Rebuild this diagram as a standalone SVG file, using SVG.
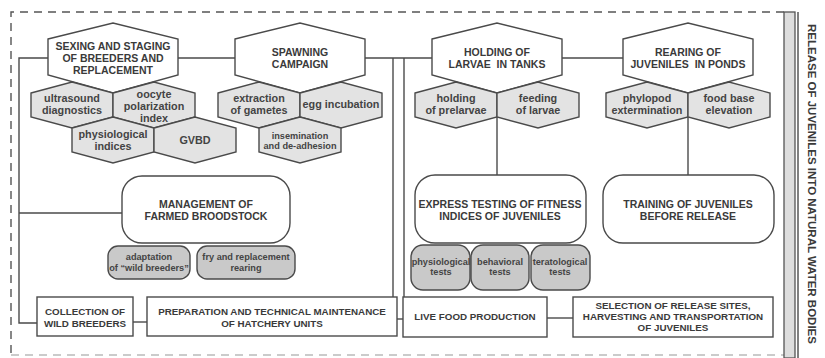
<svg xmlns="http://www.w3.org/2000/svg" width="825" height="358" viewBox="0 0 825 358">
<style>
.bg{fill:#ffffff}
.border{fill:none;stroke:#555;stroke-width:1.4;stroke-dasharray:8 6}
.line{fill:none;stroke:#4a4a4a;stroke-width:1.4}
.bighex{fill:#ffffff;stroke:#4a4a4a;stroke-width:1.4}
.smhex{fill:#e3e3e3;stroke:#4a4a4a;stroke-width:1.4}
.rbox{fill:#ffffff;stroke:#4a4a4a;stroke-width:1.4}
.sbox{fill:#c9c9c9;stroke:#4a4a4a;stroke-width:1.4}
.box{fill:#ffffff;stroke:#4a4a4a;stroke-width:1.4}
.bar{fill:#dddddd;stroke:#555;stroke-width:1.3}
text{font-family:"Liberation Sans",Arial,sans-serif;font-weight:bold;fill:#3a3a3a;text-anchor:middle}
.t1{font-size:10.5px}
.t2{font-size:10.8px;fill:#444}
.t3{font-size:9.2px;fill:#444}
.t4{font-size:9.8px}
.t5{font-size:11.5px}
</style>
<rect class="bg" x="0" y="0" width="825" height="358"/>

<g id="frame">
<path class="border" d="M784 12 H11 V358"/>
<path class="border" d="M11 355 H784" style="stroke:#bbb"/>
<rect class="bar" x="784" y="12" width="11" height="346"/>
<line class="line" x1="798" y1="12" x2="798" y2="358"/>
</g>

<g id="connectors">
<path class="line" d="M48 58 H19 V323 H37"/>
<line class="line" x1="19" y1="213" x2="122" y2="213"/>
<line class="line" x1="178" y1="58" x2="235" y2="58"/>
<line class="line" x1="365" y1="58" x2="432" y2="58"/>
<line class="line" x1="562" y1="58" x2="623" y2="58"/>
<line class="line" x1="393" y1="58" x2="393" y2="297"/>
<line class="line" x1="404" y1="58" x2="404" y2="297"/>
<line class="line" x1="497" y1="117" x2="497" y2="175"/>
<line class="line" x1="688" y1="117" x2="688" y2="175"/>
<line class="line" x1="133" y1="322" x2="147" y2="322"/>
<line class="line" x1="397" y1="319" x2="403" y2="319"/>
<line class="line" x1="547" y1="318" x2="573" y2="318"/>
</g>

<g id="sexing">
<polygon class="bighex" points="48,39 113,23 178,39 178,75 113,93 48,75"/>
<text class="t1" x="113" y="50">SEXING AND STAGING</text>
<text class="t1" x="113" y="62">OF BREEDERS AND</text>
<text class="t1" x="113" y="74">REPLACEMENT</text>
</g>
<g id="ultrasound">
<polygon class="smhex" points="31,93 72,82 113,93 113,117 72,128 31,117"/>
<text class="t2" x="72" y="102">ultrasound</text>
<text class="t2" x="72" y="114">diagnostics</text>
</g>
<g id="oocyte">
<polygon class="smhex" points="113,93 154,82 195,93 195,117 154,128 113,117"/>
<text class="t2" x="154" y="98">oocyte</text>
<text class="t2" x="154" y="110">polarization</text>
<text class="t2" x="154" y="122">index</text>
</g>
<g id="physiological-indices">
<polygon class="smhex" points="72,128 113,117 154,128 154,152 113,163 72,152"/>
<text class="t2" x="113" y="138">physiological</text>
<text class="t2" x="113" y="150">indices</text>
</g>
<g id="gvbd">
<polygon class="smhex" points="154,128 195,117 236,128 236,152 195,163 154,152"/>
<text class="t2" x="195" y="144">GVBD</text>
</g>

<g id="spawning">
<polygon class="bighex" points="235,39 300,23 365,39 365,75 300,93 235,75"/>
<text class="t1" x="300" y="56">SPAWNING</text>
<text class="t1" x="300" y="68">CAMPAIGN</text>
</g>
<g id="extraction">
<polygon class="smhex" points="218,93 259,82 300,93 300,117 259,128 218,117"/>
<text class="t2" x="259" y="102">extraction</text>
<text class="t2" x="259" y="114">of gametes</text>
</g>
<g id="egg-incubation">
<polygon class="smhex" points="300,93 341,82 382,93 382,117 341,128 300,117"/>
<text class="t2" x="341" y="108">egg incubation</text>
</g>
<g id="insemination">
<polygon class="smhex" points="259,128 300,117 341,128 341,152 300,163 259,152"/>
<text class="t3" x="300" y="139">insemination</text>
<text class="t3" x="300" y="149">and de-adhesion</text>
</g>

<g id="holding">
<polygon class="bighex" points="432,39 497,23 562,39 562,75 497,93 432,75"/>
<text class="t1" x="497" y="56">HOLDING OF</text>
<text class="t1" x="497" y="68" xml:space="preserve">LARVAE  IN TANKS</text>
</g>
<g id="prelarvae">
<polygon class="smhex" points="415,93 456,82 497,93 497,117 456,128 415,117"/>
<text class="t2" x="456" y="102">holding</text>
<text class="t2" x="456" y="114">of prelarvae</text>
</g>
<g id="feeding">
<polygon class="smhex" points="497,93 538,82 579,93 579,117 538,128 497,117"/>
<text class="t2" x="538" y="102">feeding</text>
<text class="t2" x="538" y="114">of larvae</text>
</g>

<g id="rearing">
<polygon class="bighex" points="623,39 688,23 753,39 753,75 688,93 623,75"/>
<text class="t1" x="688" y="56">REARING OF</text>
<text class="t1" x="688" y="68" xml:space="preserve">JUVENILES  IN PONDS</text>
</g>
<g id="phylopod">
<polygon class="smhex" points="606,93 647,82 688,93 688,117 647,128 606,117"/>
<text class="t2" x="647" y="102">phylopod</text>
<text class="t2" x="647" y="114">extermination</text>
</g>
<g id="food-base">
<polygon class="smhex" points="688,93 729,82 770,93 770,117 729,128 688,117"/>
<text class="t2" x="729" y="102">food base</text>
<text class="t2" x="729" y="114">elevation</text>
</g>

<g id="management">
<rect class="rbox" x="122" y="176" width="168" height="67" rx="20"/>
<text class="t1" x="206" y="208">MANAGEMENT OF</text>
<text class="t1" x="206" y="220">FARMED BROODSTOCK</text>
</g>
<g id="adaptation">
<rect class="sbox" x="108" y="246" width="82" height="33" rx="10"/>
<text class="t3" x="149" y="260">adaptation</text>
<text class="t3" x="149" y="271">of “wild breeders”</text>
</g>
<g id="fry">
<rect class="sbox" x="197" y="246" width="98" height="33" rx="10"/>
<text class="t3" x="246" y="260">fry and replacement</text>
<text class="t3" x="246" y="271">rearing</text>
</g>

<g id="express">
<rect class="rbox" x="415" y="175" width="171" height="68" rx="20"/>
<text class="t1" x="500" y="208">EXPRESS TESTING OF FITNESS</text>
<text class="t1" x="500" y="220">INDICES OF JUVENILES</text>
</g>
<g id="physiological-tests">
<rect class="sbox" x="411" y="245" width="59" height="45" rx="12"/>
<text class="t3" x="441" y="265">physiological</text>
<text class="t3" x="441" y="275">tests</text>
</g>
<g id="behavioral-tests">
<rect class="sbox" x="471" y="245" width="58" height="45" rx="12"/>
<text class="t3" x="500" y="265">behavioral</text>
<text class="t3" x="500" y="275">tests</text>
</g>
<g id="teratological-tests">
<rect class="sbox" x="531" y="245" width="59" height="45" rx="12"/>
<text class="t3" x="560" y="265">teratological</text>
<text class="t3" x="560" y="275">tests</text>
</g>

<g id="training">
<rect class="rbox" x="603" y="175" width="171" height="68" rx="20"/>
<text class="t1" x="688" y="208">TRAINING OF JUVENILES</text>
<text class="t1" x="688" y="220">BEFORE RELEASE</text>
</g>

<g id="collection">
<rect class="box" x="37" y="297" width="96" height="39"/>
<text class="t4" x="85" y="315">COLLECTION OF</text>
<text class="t4" x="85" y="327">WILD BREEDERS</text>
</g>
<g id="preparation">
<rect class="box" x="147" y="297" width="250" height="39"/>
<text class="t4" x="272" y="315">PREPARATION AND TECHNICAL MAINTENANCE</text>
<text class="t4" x="272" y="327">OF HATCHERY UNITS</text>
</g>
<g id="live-food">
<rect class="box" x="403" y="297" width="144" height="40"/>
<text class="t4" x="475" y="320">LIVE FOOD PRODUCTION</text>
</g>
<g id="selection">
<rect class="box" x="573" y="297" width="200" height="40"/>
<text class="t4" x="673" y="309">SELECTION OF RELEASE SITES,</text>
<text class="t4" x="673" y="320">HARVESTING AND TRANSPORTATION</text>
<text class="t4" x="673" y="331">OF JUVENILES</text>
</g>

<g id="release">
<text class="t5" transform="translate(808,184) rotate(90)" x="0" y="0">RELEASE OF JUVENILES INTO NATURAL WATER BODIES</text>
</g>
</svg>
